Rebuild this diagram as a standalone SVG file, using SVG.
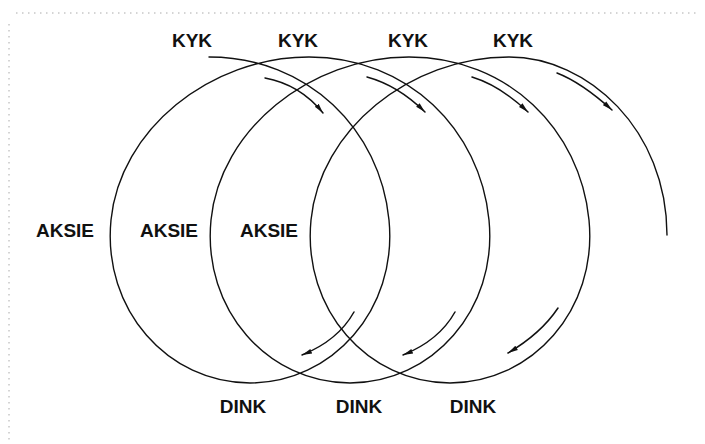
<svg xmlns="http://www.w3.org/2000/svg" width="705" height="444" viewBox="0 0 705 444">
  <style>
    .line { fill: none; stroke: #111; stroke-width: 1.4; stroke-linecap: round; }
    .arr { fill: none; stroke: #111; stroke-width: 1.5; stroke-linecap: round; marker-end: url(#head); }
    .lbl { font-family: "Liberation Sans", Arial, sans-serif; font-weight: bold; font-size: 19px; fill: #111; text-anchor: middle; }
    .noise { fill: none; stroke: #aaa; stroke-width: 1; stroke-dasharray: 1.5 4.5; }
  </style>
  <defs>
    <marker id="head" markerUnits="userSpaceOnUse" markerWidth="11" markerHeight="7" refX="10" refY="3.5" orient="auto">
      <path d="M0,1 L10,3.5 L0,6 z" fill="#111"/>
    </marker>
  </defs>
  <rect width="705" height="444" fill="#fff"/>

  <g id="scan-edges">
    <line class="noise" x1="9" y1="24" x2="9" y2="444"/>
    <line class="noise" x1="16" y1="13" x2="700" y2="13"/>
  </g>

  <g id="coil">
    <path class="line" d="M209,57 C308.4,57 380.2,130 389,220
      C397.8,310 331.8,383 250,383
      C168.2,383 102.2,310 111,220
      C119.8,130 209.6,57 309,57
      C408.4,57 480.2,130 489,220
      C497.8,310 431.8,383 350,383
      C268.2,383 202.2,310 211,220
      C219.8,130 309.6,57 409,57
      C508.4,57 580.2,130 589,220
      C597.8,310 531.8,383 450,383
      C368.2,383 302.2,310 311,220
      C319.8,130 409.6,57 509,57
      C588,57 667,130 667,235"/>
  </g>

  <g id="connectors">
    <path class="arr" d="M265,78 Q300,84.5 323,113"/>
    <path class="arr" d="M367,77 Q398,85.5 425,112"/>
    <path class="arr" d="M472,77 Q500,85.5 528,112"/>
    <path class="arr" d="M557,73 Q581.5,82.5 612,110"/>
    <path class="arr" d="M354,312 Q338,340.5 302,355"/>
    <path class="arr" d="M455,312 Q439,340.5 403,355"/>
    <path class="arr" d="M558,308 Q541,333.5 508,353"/>
  </g>

  <g id="kyk-1"><text class="lbl" x="192" y="47">KYK</text></g>
  <g id="kyk-2"><text class="lbl" x="298" y="47">KYK</text></g>
  <g id="kyk-3"><text class="lbl" x="408" y="47">KYK</text></g>
  <g id="kyk-4"><text class="lbl" x="513" y="47">KYK</text></g>

  <g id="aksie-1"><text class="lbl" x="65" y="237">AKSIE</text></g>
  <g id="aksie-2"><text class="lbl" x="169" y="237">AKSIE</text></g>
  <g id="aksie-3"><text class="lbl" x="269" y="237">AKSIE</text></g>

  <g id="dink-1"><text class="lbl" x="243" y="413">DINK</text></g>
  <g id="dink-2"><text class="lbl" x="359" y="413">DINK</text></g>
  <g id="dink-3"><text class="lbl" x="473" y="413">DINK</text></g>
</svg>
